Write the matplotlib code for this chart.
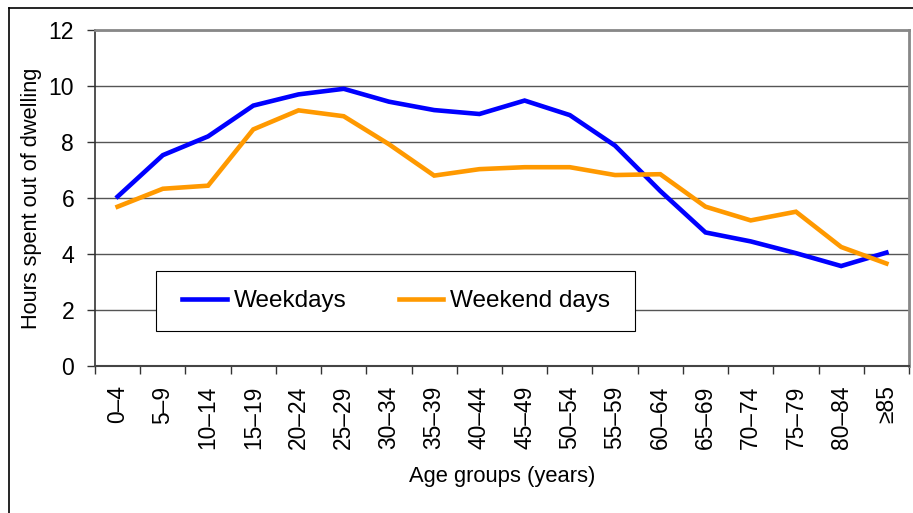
import matplotlib
matplotlib.use("Agg")
import matplotlib.pyplot as plt
from matplotlib.lines import Line2D
from matplotlib.patches import Rectangle

plt.rcParams['font.family'] = ['Liberation Sans', 'DejaVu Sans']

# age groups on the x axis
age_groups = ['0–4', '5–9', '10–14', '15–19', '20–24', '25–29', '30–34', '35–39',
              '40–44', '45–49', '50–54', '55–59', '60–64', '65–69', '70–74',
              '75–79', '80–84', '≥85']

# hours spent out of dwelling
weekdays = [6.05, 7.53, 8.2, 9.3, 9.7, 9.9, 9.44, 9.14, 9.0, 9.48, 8.96,
            7.87, 6.25, 4.77, 4.45, 4.03, 3.57, 4.05]
weekend_days = [5.69, 6.33, 6.44, 8.45, 9.13, 8.92, 7.92, 6.8, 7.03, 7.1,
                7.1, 6.82, 6.85, 5.69, 5.2, 5.51, 4.25, 3.66]

fig = plt.figure(figsize=(9.13, 5.13), dpi=100)
ax = fig.add_axes([95 / 913, 1 - 366 / 513, (909 - 95) / 913, (366 - 30) / 513])

x = list(range(len(age_groups)))
ax.plot(x, weekdays, color='#0000ff', linewidth=3.3, label='Weekdays',
        solid_joinstyle='miter', zorder=3)
ax.plot(x, weekend_days, color='#ff9900', linewidth=3.3, label='Weekend days',
        solid_joinstyle='miter', zorder=3)

ax.set_xlim(-0.5, len(age_groups) - 0.5)
ax.set_ylim(0, 12)
ax.set_yticks(range(0, 13, 2))
ax.yaxis.grid(True, color='#555555', linewidth=1)
ax.set_axisbelow(True)

# labels at the centres, tick marks on the boundaries
ax.set_xticks(x)
ax.set_xticklabels(age_groups, rotation=90, fontsize=16.4)
ax.set_xticks([i - 0.5 for i in range(len(age_groups) + 1)], minor=True)
ax.tick_params(axis='x', which='major', length=0, pad=14)
ax.tick_params(axis='x', which='minor', length=6, width=1, color='#333333')
ax.tick_params(axis='y', length=6, width=1, color='#333333', pad=9, labelsize=16.6)

for side in ['top', 'right']:
    ax.spines[side].set_color('#888888')
    ax.spines[side].set_linewidth(2)
ax.spines['left'].set_color('#333333')
ax.spines['left'].set_linewidth(1.2)
ax.spines['bottom'].set_color('#444444')
ax.spines['bottom'].set_linewidth(1.5)

ax.set_xlabel('Age groups (years)', fontsize=15.8, labelpad=12.5)
ax.set_ylabel('Hours spent out of dwelling', fontsize=15.7, labelpad=4.5)

# legend box (white, covers the gridlines)
ax.add_patch(Rectangle((156 / 913, 1 - 331 / 513), (635 - 156) / 913, 60 / 513,
                       transform=fig.transFigure, facecolor='white',
                       edgecolor='black', linewidth=0.8, zorder=2.5))
ax.legend(ncol=2, loc='center', bbox_to_anchor=(396 / 913, 1 - 301 / 513),
          bbox_transform=fig.transFigure, fontsize=17.5, frameon=False,
          handlelength=1.85, handletextpad=0.25, columnspacing=2.15,
          borderpad=0.7)

# outer chart frame
fig.add_artist(Line2D([9 / 913, 1], [1 - 8 / 513, 1 - 8 / 513], color='black',
                      linewidth=1.2, transform=fig.transFigure))
fig.add_artist(Line2D([9 / 913, 9 / 913], [0, 1 - 8 / 513], color='black',
                      linewidth=1.2, transform=fig.transFigure))

fig.savefig('out.png', dpi=100)
